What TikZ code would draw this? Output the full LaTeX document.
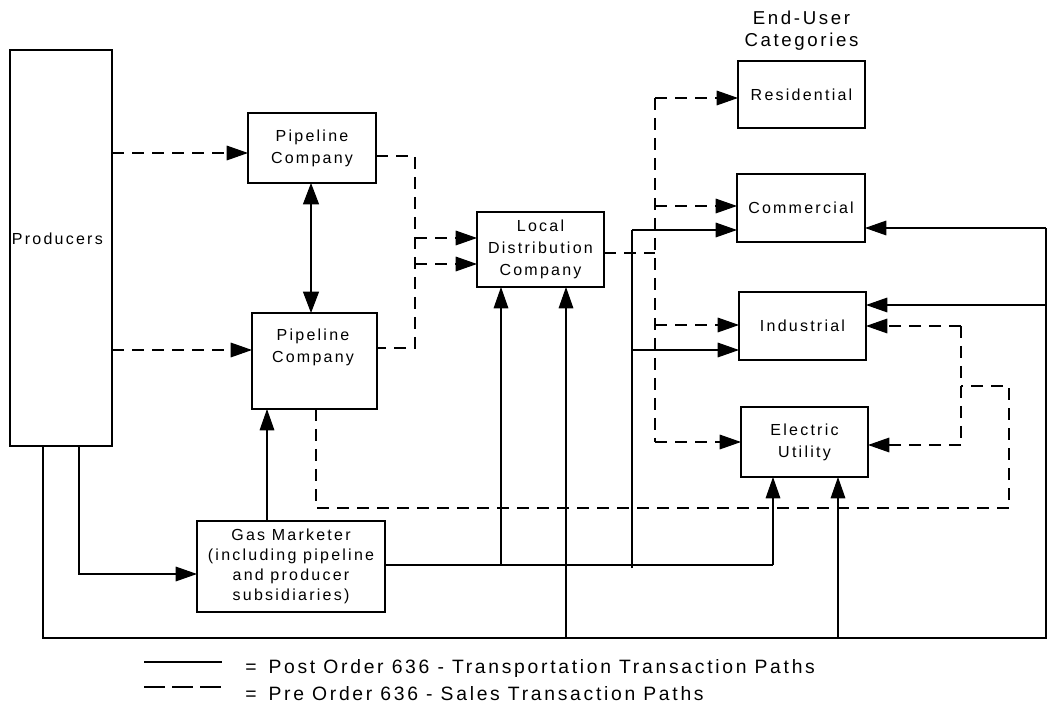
\documentclass[tikz,border=0pt]{standalone}
\usepackage{fontspec}
\setmainfont{Liberation Sans}[LetterSpace=14]
\usetikzlibrary{arrows.meta}
\begin{document}
\begin{tikzpicture}[x=0.75pt,y=-0.75pt,
  lw/.style={line width=0.8pt},
  box/.style={draw, lw, rectangle, inner sep=0pt, outer sep=0pt, align=center, font=\fontsize{12}{16.5}\selectfont},
  txt/.style={inner sep=0pt, outer sep=0pt, align=center, font=\fontsize{12}{16.5}\selectfont},
  dsh/.style={lw, dash pattern=on 9pt off 6pt},
  arr/.style={-{Triangle[length=16pt,width=11pt]}},
  dbl/.style={{Triangle[length=16pt,width=12pt]}-{Triangle[length=16pt,width=12pt]}},
  legtxt/.style={anchor=base west, inner sep=0pt, font=\fontsize{14.5}{17}\selectfont},
]
\useasboundingbox (0,0) rectangle (1049,705);

% boxes
\node[box, minimum width=76.5pt, minimum height=297pt] (prod) at (61,248) {};
\node[txt, anchor=base west] (prodt) at (12,245) {Producers};
\node[box, minimum width=96pt, minimum height=52.5pt] (pc1) at (312,148) {Pipeline\\Company};
\node[box, minimum width=93.75pt, minimum height=72pt] (pc2) at (314.5,361) {};
\node[txt] (pc2t) at (313,347) {Pipeline\\Company};
\node[box, minimum width=95.25pt, minimum height=56.25pt] (ldc) at (540.5,249.5) {Local\\Distribution\\Company};
\node[box, minimum width=95.25pt, minimum height=50.25pt] (res) at (801.5,94.5) {Residential};
\node[box, minimum width=96pt, minimum height=51pt] (com) at (801,208) {Commercial};
\node[box, minimum width=95.25pt, minimum height=51pt] (ind) at (802.5,326) {Industrial};
\node[box, minimum width=95.25pt, minimum height=52.5pt] (elec) at (804.5,442) {Electric\\Utility};
\node[box, minimum width=141pt, minimum height=68.25pt, font=\fontsize{12}{15}\selectfont] (gm) at (291,566.5) {Gas Marketer\\(including pipeline\\and producer\\subsidiaries)};
\node[txt, font=\fontsize{14}{16.5}\selectfont] (eu) at (801.5,31) {End-User\\Categories};

% dashed: sales paths
\draw[dsh,arr] (prod.east |- 0,153) -- (pc1.west |- 0,153);
\draw[dsh,arr] (prod.east |- 0,350) -- (pc2.west |- 0,350);
\coordinate (v1t) at (415,156);
\coordinate (v1b) at (415,348);
\coordinate (v1a) at (415,238);
\coordinate (v1c) at (415,264);
\draw[dsh] (pc1.east |- v1t) -- (v1t) -- (v1b) -- (pc2.east |- v1b);
\draw[dsh,arr] (v1a) -- (ldc.west |- v1a);
\draw[dsh,arr] (v1c) -- (ldc.west |- v1c);

\coordinate (v2t) at (655,98);
\coordinate (v2b) at (655,442);
\coordinate (v2m) at (655,253);
\coordinate (v2c) at (655,206);
\coordinate (v2i) at (655,325);
\draw[dsh] (ldc.east |- v2m) -- (v2m);
\draw[dsh] (v2t) -- (v2b);
\draw[dsh,arr] (v2t) -- (res.west |- v2t);
\draw[dsh,arr] (v2c) -- (com.west |- v2c);
\draw[dsh,arr] (v2i) -- (ind.west |- v2i);
\draw[dsh,arr] (v2b) -- (elec.west |- v2b);

\coordinate (d1) at (316,508);
\coordinate (d2) at (1009,508);
\coordinate (d3) at (1009,386);
\coordinate (d4) at (961,386);
\coordinate (d5) at (961,326);
\coordinate (d6) at (961,445);
\draw[dsh] (pc2.south -| d1) -- (d1) -- (d2) -- (d3) -- (d4);
\draw[dsh] (d5) -- (d6);
\draw[dsh,arr] (d5) -- (ind.east |- d5);
\draw[dsh,arr] (d6) -- (elec.east |- d6);

% solid: transportation paths
\coordinate (px) at (311,0);
\draw[lw,dbl] (pc1.south -| px) -- (pc2.north -| px);

\coordinate (s1) at (79,574);
\draw[lw,arr] (prod.south -| s1) -- (s1) -- (gm.west |- s1);

\coordinate (b1) at (43,638);
\coordinate (b2) at (1046,638);
\coordinate (b3) at (1046,228);
\coordinate (b4) at (1046,305);
\coordinate (b5) at (566,638);
\coordinate (b6) at (838,638);
\draw[lw] (prod.south -| b1) -- (b1) -- (b2) -- (b3);
\draw[lw,arr] (b3) -- (com.east |- b3);
\draw[lw,arr] (b4) -- (ind.east |- b4);
\draw[lw,arr] (b5) -- (ldc.south -| b5);
\draw[lw,arr] (b6) -- (elec.south -| b6);

\coordinate (g0) at (267,0);
\draw[lw,arr] (gm.north -| g0) -- (pc2.south -| g0);
\coordinate (g1) at (773,565);
\coordinate (g2) at (501,565);
\coordinate (g3) at (632,568);
\coordinate (g4) at (632,230);
\coordinate (g5) at (632,350);
\draw[lw] (gm.east |- g1) -- (g1);
\draw[lw,arr] (g1) -- (elec.south -| g1);
\draw[lw,arr] (g2) -- (ldc.south -| g2);
\draw[lw] (g3) -- (g4);
\draw[lw,arr] (g4) -- (com.west |- g4);
\draw[lw,arr] (g5) -- (ind.west |- g5);

% legend
\coordinate (la) at (144,662);
\coordinate (lb) at (222,662);
\coordinate (lc) at (144,687);
\coordinate (ld) at (222,687);
\draw[lw] (la) -- (lb);
\draw[lw, dash pattern=on 16pt off 5pt] (lc) -- (ld);
\node[legtxt] (leg1) at (245,673) {=\hspace{9pt}Post Order 636 - Transportation Transaction Paths};
\node[legtxt] (leg2) at (245,700) {=\hspace{9pt}Pre Order 636 - Sales Transaction Paths};
\end{tikzpicture}
\end{document}
